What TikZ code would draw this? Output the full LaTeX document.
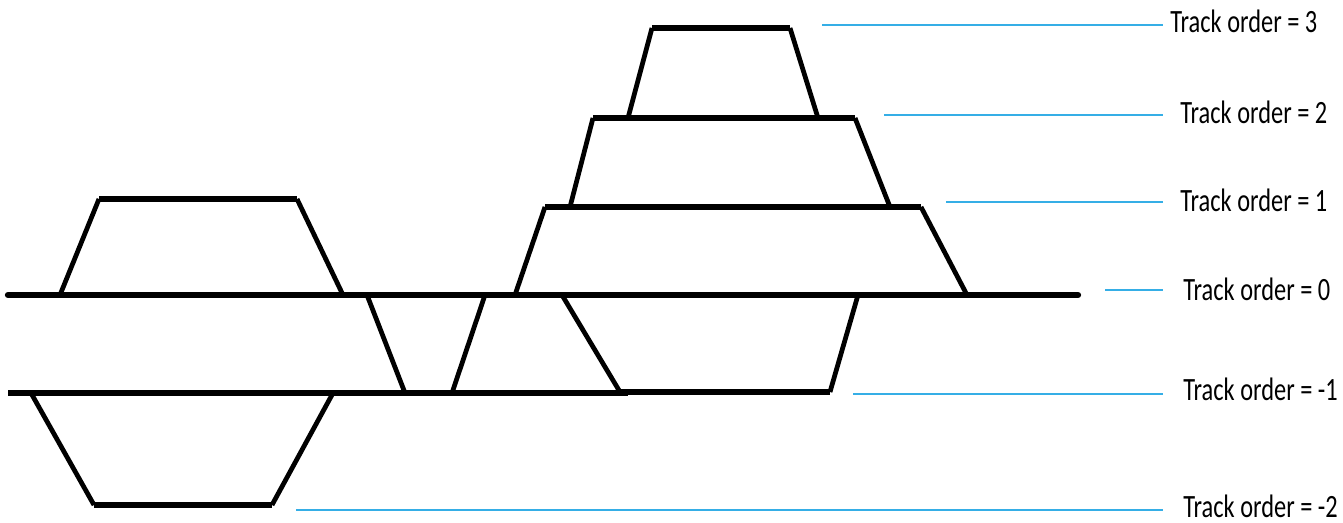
\documentclass[tikz,border=0pt]{standalone}
\usepackage{fontspec}
\setmainfont{Carlito}
\usepackage{tikz}
\usetikzlibrary{positioning}
\definecolor{guide}{HTML}{35AEE6}

\begin{document}
\begin{tikzpicture}[
  x=0.02cm, y=-0.02cm,
  trackline/.style={line width=3.6pt, black},
  switchline/.style={line width=2.7pt, black},
  guideline/.style={line width=1.1pt, guide},
  labeltext/.style={anchor=west, inner sep=0pt, font=\fontsize{18.5}{20}\selectfont}
]
  \useasboundingbox (0,0) rectangle (1343,523);

  % the two long tracks, order 0 and order -1
  \draw[trackline, line cap=round] (8,295) -- (1078,295);
  \draw[trackline] (8,393) -- (628,393);

  % crossovers between track 0 and track -1
  \draw[switchline] (367,295) -- (405,393);
  \draw[switchline] (485,295) -- (452,393);

  % loops: left foot, left corner, right corner, right foot, foot y, bar y
  \foreach \a/\b/\c/\d/\ya/\yb in {60/99/297/343/295/199,
                                   31/94/272/333/393/505,
                                   515/545/921/967/295/207,
                                   570/593/855/890/207/118,
                                   628/652/790/818/118/28,
                                   562/620/830/858/295/392} {
    \draw[switchline] (\a,\ya) -- (\b,\yb);
    \draw[trackline] (\b,\yb) -- (\c,\yb);
    \draw[switchline] (\c,\yb) -- (\d,\ya);
  }

  % labels on the right with their blue guide lines
  \foreach \ord/\yl/\yt/\xs/\xt [count=\i] in {3/25/21/822/1170,
                                              2/115/112/884/1180,
                                              1/202/200/946/1180,
                                              0/290/289/1105/1183,
                                              -1/394/389/853/1183,
                                              -2/510/506/296/1183} {
    \node[labeltext] (lab\i) at (\xt,\yt) {\scalebox{0.75}[1]{Track order = \ord}};
    \coordinate (gs\i) at (\xs,\yl);
    \draw[guideline, shorten >={(\xt-1163)*0.02cm}] (gs\i) -- (gs\i -| lab\i.west);
  }
\end{tikzpicture}
\end{document}
